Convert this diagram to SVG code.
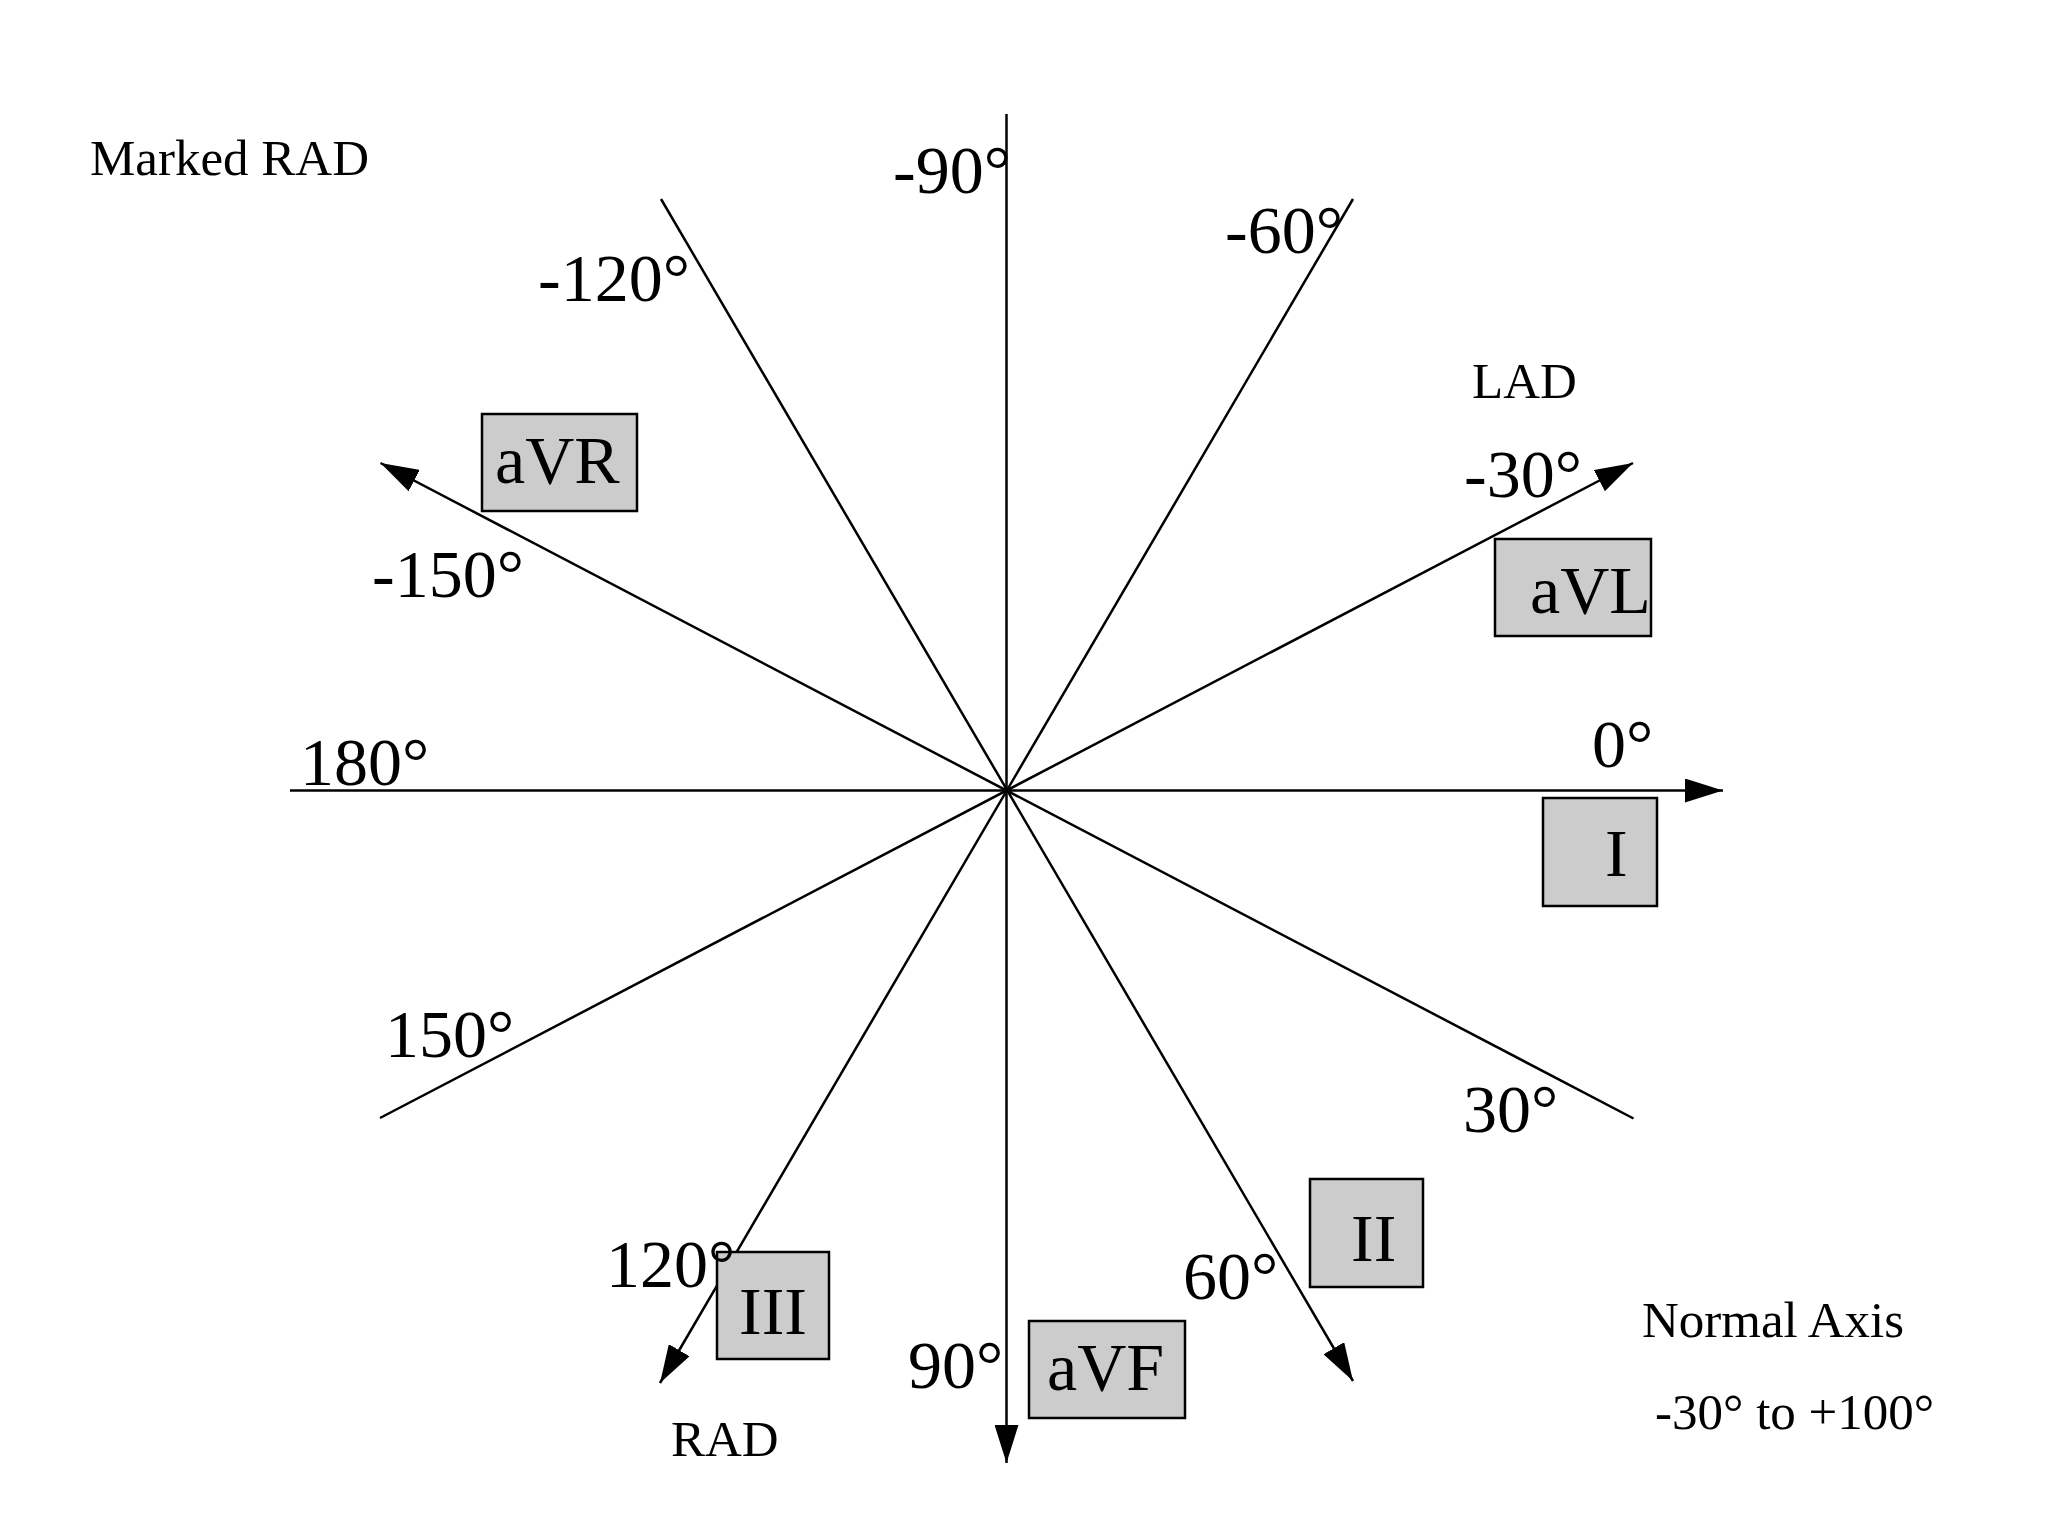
<svg xmlns="http://www.w3.org/2000/svg" width="2048" height="1536" viewBox="0 0 2048 1536">
<style>
.ax{stroke:#000;stroke-width:2.5;fill:none}
.box{fill:#cccccc;stroke:#000;stroke-width:2.5}
.big{font-family:"Liberation Serif","Times New Roman",serif;font-size:68px;fill:#000}
.sm{font-family:"Liberation Serif","Times New Roman",serif;font-size:51px;fill:#000}
</style>
<defs>
<marker id="arr" markerUnits="userSpaceOnUse" markerWidth="38" markerHeight="24" refX="38" refY="12" orient="auto" viewBox="0 0 38 24">
<path d="M0,0 L38,12 L0,24 z" fill="#000"/>
</marker>
</defs>
<rect width="2048" height="1536" fill="#fff"/>
<g id="connectors">
<line class="ax" x1="290" y1="790.5" x2="1723" y2="790.5" marker-end="url(#arr)"/>
<line class="ax" x1="1006.5" y1="114" x2="1006.5" y2="1463" marker-end="url(#arr)"/>
<line class="ax" x1="380" y1="1118" x2="1633" y2="463" marker-end="url(#arr)"/>
<line class="ax" x1="1633.5" y1="1118.5" x2="380.5" y2="463" marker-end="url(#arr)"/>
<line class="ax" x1="1353" y1="199" x2="660" y2="1383" marker-end="url(#arr)"/>
<line class="ax" x1="661" y1="199" x2="1353" y2="1381" marker-end="url(#arr)"/>
</g>
<g id="node-aVR"><rect class="box" x="482" y="414" width="155" height="97"/><text class="big" x="495" y="483">aVR</text></g>
<g id="node-aVL"><rect class="box" x="1495" y="539" width="156" height="97"/><text class="big" x="1530" y="613">aVL</text></g>
<g id="node-I"><rect class="box" x="1543" y="798" width="114" height="108"/><text class="big" x="1605" y="876">I</text></g>
<g id="node-II"><rect class="box" x="1310" y="1179" width="113" height="108"/><text class="big" x="1351" y="1261">II</text></g>
<g id="node-III"><rect class="box" x="717" y="1252" width="112" height="107"/><text class="big" x="739" y="1334">III</text></g>
<g id="node-aVF"><rect class="box" x="1029" y="1321" width="156" height="97"/><text class="big" x="1047" y="1390">aVF</text></g>
<g id="labels">
<text class="big" x="893" y="193">-90°</text>
<text class="big" x="1225" y="253">-60°</text>
<text class="big" x="538" y="301">-120°</text>
<text class="big" x="1464" y="497">-30°</text>
<text class="big" x="372" y="597">-150°</text>
<text class="big" x="300" y="785">180°</text>
<text class="big" x="1592" y="767">0°</text>
<text class="big" x="385" y="1057">150°</text>
<text class="big" x="1463" y="1132">30°</text>
<text class="big" x="606" y="1287">120°</text>
<text class="big" x="1183" y="1299">60°</text>
<text class="big" x="908" y="1388">90°</text>
<text class="sm" x="90" y="175">Marked RAD</text>
<text class="sm" x="1472" y="398">LAD</text>
<text class="sm" x="671" y="1456">RAD</text>
<text class="sm" x="1642" y="1337">Normal Axis</text>
<text class="sm" x="1655" y="1429">-30° to +100°</text>
</g>
</svg>
